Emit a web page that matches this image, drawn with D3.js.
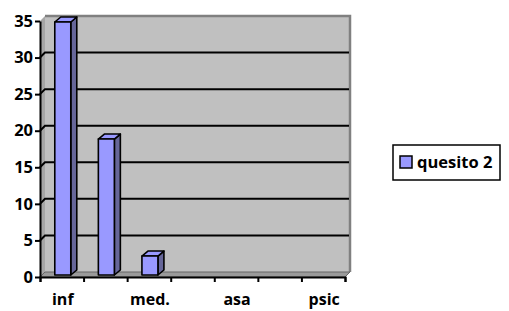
<!DOCTYPE html>
<html><head><meta charset="utf-8">
<script src="https://cdn.jsdelivr.net/npm/d3@7"></script>
<style>body{margin:0;background:#fff}svg{display:block}</style>
</head><body>
<svg id="c" width="509" height="311"></svg>
<script>
const categories = ["inf", "", "med.", "", "asa", "", "psic"];
const seriesName = "quesito 2";
const values = [35, 19, 3, 0, 0, 0, 0];
const yTicks = [0, 5, 10, 15, 20, 25, 30, 35];

const svg = d3.select("#c");
const font = "'Open Sans', sans-serif";
const FS = 16.5;
const X0 = 40, X1 = 345, Y0 = 277, Y1 = 21;
const DX = 5, DY = -5;

const x = d3.scaleBand().domain(d3.range(categories.length)).range([X0, X1]);
const y = d3.scaleLinear().domain([0, 35]).range([Y0, Y1]);

// side wall (left)
svg.append("path")
  .attr("d", `M${X0},${y(35)} L${X0+DX},${y(35)+DY} L${X0+DX},${Y0+DY} L${X0},${Y0} Z`)
  .attr("fill", "#a6a6a6");
// back wall
svg.append("rect").attr("x", X0+DX).attr("y", y(35)+DY)
  .attr("width", X1 - X0).attr("height", Y0 - y(35))
  .attr("fill", "#c0c0c0");
// wall border top / right
svg.append("path")
  .attr("d", `M${X0+DX},${y(35)+DY} L${X1+DX},${y(35)+DY} L${X1+DX},${Y0+DY}`)
  .attr("fill", "none").attr("stroke", "#808080").attr("stroke-width", 2.5);
// floor
svg.append("path")
  .attr("d", `M${X0},${Y0} L${X0+DX},${Y0+DY} L${X1+DX},${Y0+DY} L${X1},${Y0} Z`)
  .attr("fill", "#9a9a9a").attr("stroke", "#666").attr("stroke-width", 1);

// gridlines
yTicks.filter(v => v > 0 && v < 35).forEach(v => {
  svg.append("path")
    .attr("d", `M${X0},${y(v)} L${X0+DX},${y(v)+DY} L${X1+DX-1},${y(v)+DY}`)
    .attr("fill", "none").attr("stroke", "#000").attr("stroke-width", 2);
});

// bars
const bw = 16, bdx = 6, bdy = -5;
values.forEach((v, i) => {
  if (v <= 0) return;
  const cx = x(i) + x.bandwidth() / 2 + 1;
  const l = cx - bw / 2, r = cx + bw / 2;
  const t = y(v) + 1, b = Y0 - 2;
  const g = svg.append("g").attr("stroke", "#000").attr("stroke-width", 1.6).attr("stroke-linejoin", "round");
  g.append("path").attr("d", `M${r},${t} L${r+bdx},${t+bdy} L${r+bdx},${b+bdy} L${r},${b} Z`).attr("fill", "#666699");
  g.append("path").attr("d", `M${l},${t} L${l+bdx},${t+bdy} L${r+bdx},${t+bdy} L${r},${t} Z`).attr("fill", "#9999ff");
  g.append("rect").attr("x", l).attr("y", t).attr("width", bw).attr("height", b - t).attr("fill", "#9999ff");
});

// y axis
const yAxis = d3.axisLeft(y).tickValues(yTicks).tickSize(5).tickPadding(2).tickSizeOuter(0);
const ya = svg.append("g").attr("transform", `translate(${X0},0)`).call(yAxis);
ya.select(".domain").attr("stroke", "#000").attr("stroke-width", 2);
ya.selectAll(".tick line").attr("stroke", "#000").attr("stroke-width", 2);
ya.selectAll(".tick text").attr("font-family", font).attr("font-weight", "bold")
  .attr("font-size", FS).attr("fill", "#000");

// x axis
const xb = d3.scaleLinear().domain([0, categories.length]).range([X0, X1]);
const xa = svg.append("g").attr("transform", `translate(0,${Y0})`)
  .call(d3.axisBottom(xb).tickValues(d3.range(categories.length + 1))
    .tickSize(5).tickFormat(""));
xa.select(".domain").attr("stroke", "#000").attr("stroke-width", 2);
xa.selectAll(".tick line").attr("stroke", "#000").attr("stroke-width", 2);
svg.append("g").selectAll("text").data(categories).join("text")
  .attr("x", (d, i) => x(i) + x.bandwidth() / 2 + 1)
  .attr("y", 305)
  .attr("text-anchor", "middle")
  .attr("font-family", font).attr("font-weight", "bold").attr("font-size", 16)
  .text(d => d);

// legend
svg.append("rect").attr("x", 393).attr("y", 145).attr("width", 107).attr("height", 35)
  .attr("fill", "#fff").attr("stroke", "#000").attr("stroke-width", 1.5);
svg.append("rect").attr("x", 400).attr("y", 156).attr("width", 12).attr("height", 12)
  .attr("fill", "#9999ff").attr("stroke", "#000").attr("stroke-width", 1.5);
svg.append("text").attr("x", 417).attr("y", 168)
  .attr("font-family", font).attr("font-weight", "bold").attr("font-size", FS)
  .text(seriesName);
</script>
</body></html>
